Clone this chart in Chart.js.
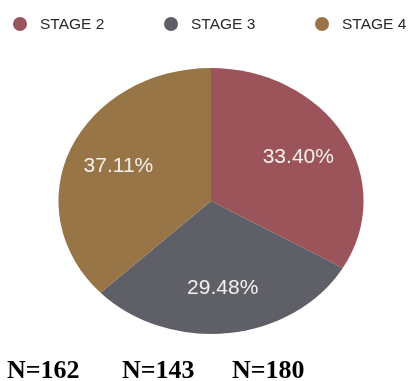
<!DOCTYPE html>
<html>
<head>
<meta charset="utf-8">
<script src="https://cdn.jsdelivr.net/npm/chart.js@4/dist/chart.umd.min.js"></script>
<style>
  html, body { margin: 0; padding: 0; background: #ffffff; }
  #wrap { position: relative; width: 410px; height: 381px; overflow: hidden; }
  #chart { position: absolute; left: 0; top: 0; }
  .legend-item { position: absolute; top: 14px; height: 19px; display: flex; align-items: center;
    font-family: "Liberation Sans", Arial, sans-serif; font-size: 15.5px; color: #2a2a2c; white-space: nowrap; }
  .legend-dot { width: 14px; height: 14px; border-radius: 50%; margin-right: 13px; }
  .count { position: absolute; top: 355px; font-family: "Liberation Serif", "Times New Roman", serif;
    font-weight: bold; font-size: 26px; color: #000; white-space: nowrap; }
</style>
</head>
<body>
<div id="wrap">
  <canvas id="chart" width="410" height="381"></canvas>
</div>
<script>
// Patients per stage
const stages = ['STAGE 2', 'STAGE 3', 'STAGE 4'];
const patients = [162, 143, 180];
const sliceColors = ['#9c545b', '#5e5f67', '#987546'];

// Horizontal placement of the legend entries and of the count captions
const legendLeft = [13, 164, 315];
const countLeft = [7, 122, 232];

// The pie is drawn as a slightly wide ellipse
const stretchX = 1.147;

const wrap = document.getElementById('wrap');
stages.forEach((name, i) => {
  const item = document.createElement('div');
  item.className = 'legend-item';
  item.style.left = legendLeft[i] + 'px';
  const dot = document.createElement('span');
  dot.className = 'legend-dot';
  dot.style.background = sliceColors[i];
  item.appendChild(dot);
  item.appendChild(document.createTextNode(name));
  wrap.appendChild(item);

  const n = document.createElement('div');
  n.className = 'count';
  n.style.left = countLeft[i] + 'px';
  n.textContent = 'N=' + patients[i];
  wrap.appendChild(n);
});

const ellipsePie = {
  id: 'ellipsePie',
  beforeDatasetsDraw(chart) {
    const arc = chart.getDatasetMeta(0).data[0];
    const ctx = chart.ctx;
    ctx.save();
    ctx.translate(arc.x, arc.y);
    ctx.scale(stretchX, 1);
    ctx.translate(-arc.x, -arc.y);
  },
  afterDatasetsDraw(chart) {
    const ctx = chart.ctx;
    ctx.restore();
    const data = chart.data.datasets[0].data;
    const total = data.reduce((a, b) => a + b, 0);
    ctx.save();
    ctx.font = '21px "Liberation Sans", Arial, sans-serif';
    ctx.fillStyle = '#f4f1ec';
    ctx.textAlign = 'center';
    ctx.textBaseline = 'middle';
    chart.getDatasetMeta(0).data.forEach((el, i) => {
      const mid = (el.startAngle + el.endAngle) / 2;
      const d = el.outerRadius * 0.66;
      const x = el.x + Math.cos(mid) * d * stretchX;
      const y = el.y + Math.sin(mid) * d;
      ctx.fillText((data[i] / total * 100).toFixed(2) + '%', x, y);
    });
    ctx.restore();
  }
};

new Chart(document.getElementById('chart'), {
  type: 'pie',
  data: {
    labels: stages,
    datasets: [{
      data: patients,
      backgroundColor: sliceColors,
      borderWidth: 0,
      hoverOffset: 0
    }]
  },
  options: {
    responsive: false,
    animation: false,
    events: [],
    layout: { padding: { left: 78, right: 66, top: 68, bottom: 47 } },
    plugins: {
      legend: { display: false },
      tooltip: { enabled: false }
    }
  },
  plugins: [ellipsePie]
});
</script>
</body>
</html>
